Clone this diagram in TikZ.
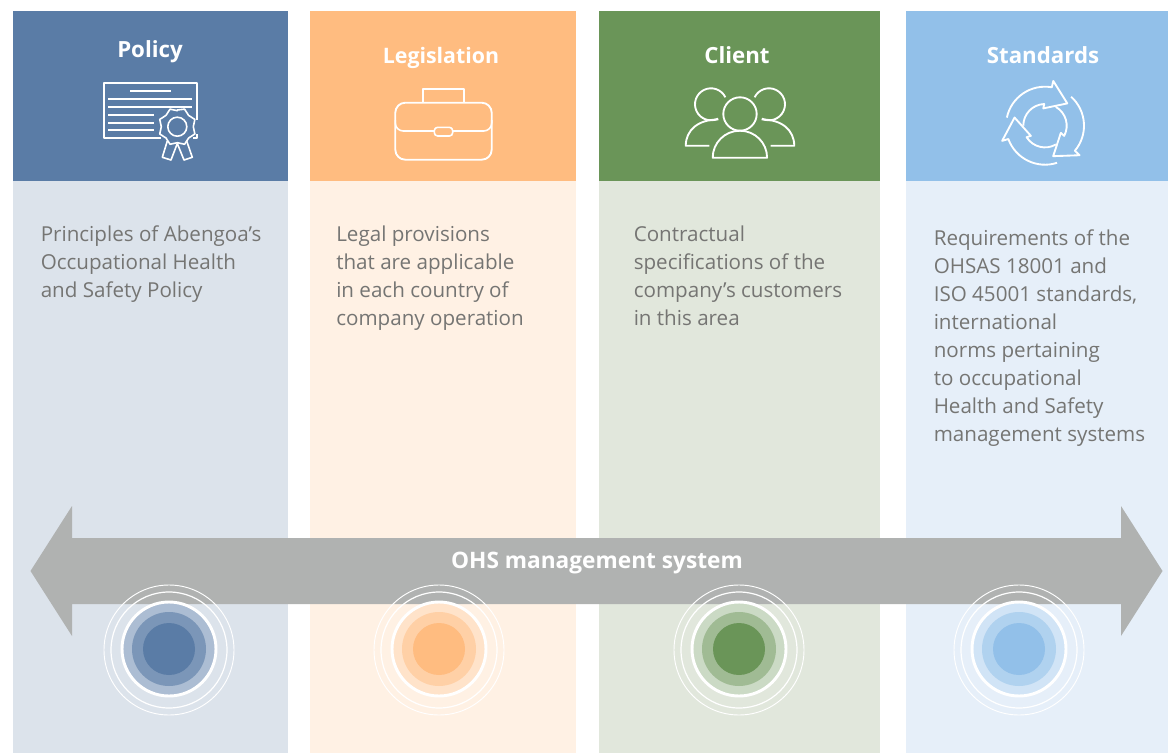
\documentclass[tikz,border=0pt]{standalone}
\usepackage{fontspec}
\setmainfont{Open Sans}
\usetikzlibrary{positioning}
\definecolor{policyc}{HTML}{5A7CA6}
\definecolor{policyl}{HTML}{DCE3EB}
\definecolor{legisc}{HTML}{FFBC80}
\definecolor{legisl}{HTML}{FFF1E4}
\definecolor{clientc}{HTML}{6A9558}
\definecolor{clientl}{HTML}{E1E7DC}
\definecolor{standc}{HTML}{92C0E9}
\definecolor{standl}{HTML}{E6EFF9}
\definecolor{ohsgrey}{HTML}{B0B2B1}
\definecolor{bodytext}{HTML}{757573}
\tikzset{
  head/.style={anchor=north west,inner sep=0pt,minimum height=127.5pt},
  band/.style={anchor=north west,inner sep=0pt,minimum height=429pt},
  title/.style={text=white,font=\fontsize{16.7}{19}\selectfont\bfseries,inner sep=0pt},
  body/.style={anchor=north west,inner sep=0pt,text=bodytext,align=left,
    font=\fontsize{15.45}{21}\selectfont},
  icon/.style={draw=white,line width=1.4pt,line join=round},
  thin icon/.style={draw=white,line width=1.2pt,line join=round}
}
\begin{document}
\begin{tikzpicture}[x=1pt,y=1pt,yscale=-1,scale=0.75]
\useasboundingbox (0,0) rectangle (1168,753);
% columns
\node[head,fill=policyc,minimum width=206.25pt] (policyhead) at (13,11) {};
\node[head,fill=legisc,minimum width=199.5pt] (legishead) at (310,11) {};
\node[head,fill=clientc,minimum width=210.75pt] (clienthead) at (599,11) {};
\node[head,fill=standc,minimum width=196.5pt] (standhead) at (906,11) {};
\node[band,fill=policyl,minimum width=206.25pt] (policyband) at (13,181) {};
\node[band,fill=legisl,minimum width=199.5pt] (legisband) at (310,181) {};
\node[band,fill=clientl,minimum width=210.75pt] (clientband) at (599,181) {};
\node[band,fill=standl,minimum width=196.5pt] (standband) at (906,181) {};
% titles
\node[title] (policy) at (150,51.5) {Policy};
\node[title,font=\fontsize{16}{19}\selectfont\bfseries] (legis) at (441,58) {Legislation};
\node[title] (client) at (737,55.5) {Client};
\node[title] (stand) at (1043,55.5) {Standards};
% texts
\node[body] (policytext) at (40.5,225.8) {Principles of Abengoa’s\\Occupational Health\\and Safety Policy};
\node[body] (legistext) at (336,225.8) {Legal provisions\\that are applicable\\in each country of\\company operation};
\node[body] (clienttext) at (633.5,225.8) {Contractual\\specifications of the\\company’s customers\\in this area};
\node[body] (standtext) at (933.5,229.8) {Requirements of the\\OHSAS 18001 and\\ISO 45001 standards,\\international\\norms pertaining\\to occupational\\Health and Safety\\management systems};
% certificate
\draw[icon] (161,138.3) -- (104,138.3) -- (104,83.3) -- (196.7,83.3) -- (196.7,120);
\draw[icon] (196.7,134) -- (196.7,138.3) -- (193,138.3);
\draw[thin icon] (130,90.7) -- (171,90.7);
\draw[thin icon] (108,99) -- (192,99) (108,107) -- (192,107);
\draw[thin icon] (108,114.7) -- (153.7,114.7) (108,122.7) -- (153.7,122.7) (108,130) -- (153.7,130);
\draw[thin icon] (177.3,126.7) circle[radius=9.5];
\draw[thin icon] (177.3,110) \foreach \a in {22.5,45,...,360} {-- ({177.3+(17.5-1.5*cos(8*\a))*sin(\a)},{126.7-(17.5-1.5*cos(8*\a))*cos(\a)})} -- cycle;
\draw[thin icon] (167.3,141) -- (162.3,157.3) -- (171,160) -- (177.3,143.5) -- (184,160) -- (192.3,157.3) -- (186.7,141);
% briefcase
\draw[icon] (422.7,102.7) -- (422.7,89) -- (464,89) -- (464,102.7);
\draw[icon,rounded corners=7.5] (395.3,102.7) rectangle (491.7,159.7);
\draw[thin icon,rounded corners=6] (395.3,120) -- (395.3,131) -- (434.3,131);
\draw[thin icon,rounded corners=6] (491.7,120) -- (491.7,131) -- (452.7,131);
\draw[thin icon,rounded corners=2.5] (434.3,127.3) rectangle (452.7,136);
% people
\draw[icon] (740,114) circle[radius=16.7];
\draw[icon] (712.7,157.7) arc[start angle=180,end angle=360,x radius=27.2,y radius=27] -- cycle;
\draw[icon] (711,104.3) ++(-26:16) arc[start angle=-26,end angle=-296,radius=16];
\draw[icon] (769,104.3) ++(-154:16) arc[start angle=-154,end angle=116,radius=16];
\draw[icon] (709.3,145.7) -- (685.7,145.7) .. controls (686,130) and (698,119.5) .. (718.3,119.5);
\draw[icon] (770.7,145.7) -- (794.3,145.7) .. controls (794,130) and (782,119.5) .. (761.7,119.5);
% recycling arrows
\foreach \a in {0,120,240} {
  \begin{scope}[shift={(1045,125.7)},rotate=\a]
    \draw[icon] (-168:39) arc[start angle=-168,end angle=-80,radius=39] -- (8.3,-44.7) -- (22.3,-22.3) -- (-1.7,-17.3) -- (-92:21.7) arc[start angle=-92,end angle=-180,radius=21.7];
  \end{scope}
}
% double arrow
\fill[ohsgrey] (30.5,571) -- (72,506) -- (72,538) -- (1121,538) -- (1121,506) -- (1162.5,571) -- (1121,636) -- (1121,604) -- (72,604) -- (72,636) -- cycle;
\node[title,font=\fontsize{17}{19}\selectfont\bfseries] (ohs) at (597,563) {OHS management system};
% targets
\foreach \tx/\tcol/\tlow/\tmid in {169/policyc/50/80,439/legisc/42/70,739/clientc/35/64,1019/standc/42/72} {
  \fill[\tcol!\tlow!white] (\tx,649) circle[radius=46];
  \fill[\tcol!\tmid!white] (\tx,649) circle[radius=37];
  \fill[\tcol] (\tx,649) circle[radius=26];
  \draw[white,line width=2.2pt] (\tx,649) circle[radius=47];
  \draw[white,line width=0.9pt] (\tx,650) circle[radius=58];
  \draw[white,line width=0.7pt] (\tx,650) circle[radius=65];
}
\end{tikzpicture}
\end{document}
